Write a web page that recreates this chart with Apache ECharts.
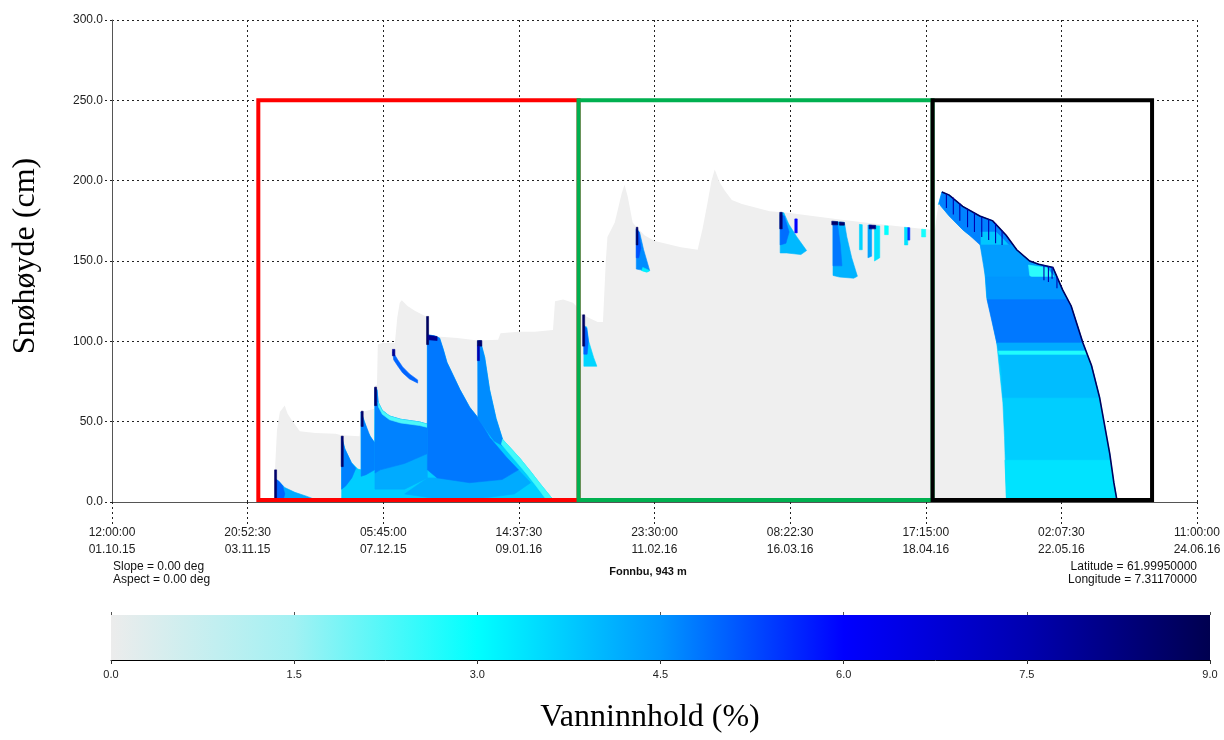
<!DOCTYPE html>
<html>
<head>
<meta charset="utf-8">
<script src="https://cdn.jsdelivr.net/npm/echarts@6/dist/echarts.min.js"></script>
<style>
  html, body { margin: 0; padding: 0; background: #ffffff; }
  #chart { width: 1224px; height: 740px; }
</style>
</head>
<body>
<div id="chart"></div>
<script>
// ---- time axis: hours since 01.10.2015 12:00, ticks every 33 d 8 h 52.5 min ----
const X_MAX_HOURS = 6407;
const X_STEP_HOURS = 800.875;
const Y_MAX_CM = 300;
const Y_STEP_CM = 50;

// Snow height HS (day since start, cm)
const hsDays = [
  [39.9, 0], [40.1, 20], [40.6, 45], [41.3, 56], [42.5, 60], [43.2, 55], [44.2, 51], [46.2, 44],
  [50, 43], [55, 42.5], [56.5, 41.5], [60.9, 41], [61.2, 41], [61.4, 56], [63.9, 57.5], [64.5, 58],
  [64.7, 72], [65.2, 73], [65.4, 98], [66.5, 99], [69.6, 99], [70.2, 115], [70.8, 124], [71.3, 125.5],
  [72.7, 122], [74.5, 119], [76.9, 116], [77.5, 115.5], [77.7, 104], [80, 103], [85, 102], [90, 100.5],
  [95, 101], [95.6, 105], [100, 106], [104, 106], [108.5, 107], [109, 125], [111, 126], [113.4, 124],
  [114.2, 122], [115.5, 117], [117, 115], [119.5, 112], [120.8, 112], [121.5, 150], [121.9, 165],
  [123.7, 174], [125.4, 192], [126.1, 197.5], [126.9, 190], [128.1, 174], [129.1, 171], [131, 166],
  [133.5, 162.5], [140, 158.5], [144.1, 157], [145.3, 170], [146.5, 186], [147.5, 200], [148.3, 207],
  [149.5, 199], [150.7, 194], [152.5, 188], [155, 185.5], [161.8, 181], [166.3, 180], [170, 178.8],
  [180, 175.5], [190, 172.5], [201.5, 169.5], [202.5, 170], [203.3, 185], [204.2, 193], [206, 191],
  [209.3, 184], [213.5, 178], [216.7, 175], [220, 166], [222.6, 157], [225.8, 150], [228, 148],
  [231.5, 146], [233.9, 132], [236, 122], [238.9, 99], [241, 85], [243, 65], [245.5, 30], [246.5, 12],
  [247.2, 2], [247.4, 0]
];

// Wet zones, early winter: [water content %, outline (day, cm)]
const wetEarly = [
  [4.2, [[40.4, 0], [40.4, 14], [41.0, 13], [42.5, 9], [45, 6], [48, 3.5], [51.6, 0]]],
  [5.0, [[40.4, 0], [40.4, 14], [41.0, 13], [42, 10], [42.5, 5], [42, 0]]],
  [8.6, [[40.0, 1], [40.0, 20], [40.5, 20], [40.5, 1]]],
  [3.7, [[56.5, 0], [56.5, 40.5], [57.3, 33], [58.9, 24.5], [60.5, 20.5], [61.3, 20], [61.3, 56],
         [62.1, 50], [63, 43], [64, 39], [64.6, 37], [64.7, 71], [65.2, 70], [65.5, 62], [66.5, 57],
         [68.3, 53.5], [71, 51.5], [75.7, 49.8], [77.5, 48.5], [77.6, 48.5], [77.6, 115], [77.7, 104],
         [79.2, 103.5], [80.6, 102], [81.5, 95], [82.4, 87], [85.6, 70], [88, 59], [90.2, 52],
         [90.2, 60], [90, 100], [90.6, 100.5], [91.7, 90], [92.9, 70], [94.5, 52], [96.1, 39],
         [100.3, 27.4], [103, 19], [105.2, 11.8], [107.7, 4], [109, 0]]],
  [4.2, [[64.7, 8], [64.7, 18], [66, 20], [72, 24], [77.5, 30], [77.6, 15], [72, 8]]],
  [4.2, [[72, 5], [77.6, 15], [80, 15], [88, 12], [96, 14], [100, 20], [103, 12], [99, 5], [90, 2], [80, 2]]],
  [4.7, [[56.5, 8], [56.5, 40.5], [57.3, 33], [58.9, 24.5], [60, 21], [59, 15], [57.5, 10]]],
  [4.7, [[61.3, 16], [61.3, 56], [62.1, 50], [63.5, 41], [64.6, 37], [64.6, 20], [62.5, 17]]],
  [4.7, [[64.7, 18], [64.7, 71], [65.2, 70], [65.5, 62], [66.5, 57], [68.3, 53.5], [71, 51.5],
         [75.7, 49.8], [77.5, 48.5], [77.5, 30], [72, 24], [66, 20]]],
  [2.3, [[65.5, 62], [66.5, 57], [68.3, 53.5], [71, 51.5], [75.7, 49.8], [77.5, 48.5], [77.5, 46.5],
         [75.7, 47.6], [71, 49.2], [68.3, 51.2], [66.5, 54.6], [65.6, 59]]],
  [4.8, [[77.6, 20], [77.6, 115], [77.7, 104], [79.2, 103.5], [80.6, 102], [81.5, 95], [82.4, 87],
         [85.6, 70], [88, 59], [90.2, 52], [93, 40], [97, 28], [100, 20], [96, 14], [88, 12], [80, 15]]],
  [4.6, [[90.0, 52], [90.0, 100], [90.6, 100.5], [91.7, 90], [92.9, 70], [94.5, 52], [96.1, 39],
         [97.5, 33], [94, 38]]],
  [2.4, [[96.1, 39], [100.3, 27.4], [103, 19], [105.2, 11.8], [107.7, 4], [109, 0], [107.3, 0],
         [104.5, 9.5], [102.2, 17], [99.5, 25], [95.8, 36]]],
  [5.0, [[69.1, 93.5], [70.3, 88.5], [71.5, 84.1], [73.2, 79.7], [75.2, 76], [75.2, 74], [73.2, 76.6],
         [71.5, 80.4], [70.3, 84.7], [69.3, 88.5]]],
  [8.6, [[56.4, 22], [56.4, 41], [56.9, 41], [56.9, 22]]],
  [8.6, [[61.3, 47], [61.3, 56.5], [61.8, 56.5], [61.8, 47]]],
  [8.6, [[64.6, 60], [64.6, 71.5], [65.1, 71.5], [65.1, 60]]],
  [8.0, [[69.0, 91], [69.0, 95], [69.6, 95], [69.6, 91]]],
  [8.8, [[77.4, 98], [77.4, 115.5], [77.9, 115.5], [77.9, 98]]],
  [8.0, [[77.7, 103.8], [80, 103], [80, 100.5], [77.7, 101]]],
  [8.6, [[89.9, 97], [89.9, 100.5], [91, 100.5], [91, 97]]],
  [7.5, [[89.9, 88], [89.9, 97], [90.4, 97], [90.4, 88]]]
];

// Wet zones, late winter
const wetMid = [
  [3.6, [[116.1, 84.5], [116.1, 109], [116.8, 109], [117.3, 100], [118.5, 90], [119.3, 84.5]]],
  [5.0, [[116.1, 92], [116.1, 110], [116.8, 108], [117.2, 100], [116.9, 92]]],
  [8.7, [[115.8, 97], [115.8, 116.5], [116.3, 116.5], [116.3, 97]]],
  [4.6, [[129.0, 145], [129.0, 170], [129.8, 168], [130.8, 157], [132.3, 144], [131.5, 143.5], [130, 144.5]]],
  [5.2, [[129.0, 152], [129.0, 170], [129.6, 168], [130.1, 158], [129.6, 152]]],
  [3.2, [[130.6, 146], [132.3, 144], [131.6, 143], [130.3, 144]]],
  [8.7, [[129.0, 160], [129.0, 171], [129.4, 171], [129.4, 160]]],
  [4.0, [[164.4, 155], [164.4, 180], [165.3, 180], [166.5, 173], [168.5, 165], [170.9, 156.5], [169.5, 154], [166, 155]]],
  [4.9, [[164.4, 160], [164.4, 179], [165.4, 178], [166.6, 168], [165.8, 161]]],
  [8.5, [[164.3, 170], [164.3, 180.3], [164.9, 180.3], [164.9, 170]]],
  [6.0, [[168.0, 167.5], [168.0, 176.2], [168.6, 176.2], [168.6, 167.5]]],
  [4.1, [[177.4, 141], [177.4, 174.5], [180.2, 174], [180.8, 165], [182, 152], [183.4, 140.5], [182.5, 139.3], [179, 140]]],
  [4.8, [[177.4, 147], [177.4, 173], [178.5, 173], [179.2, 160], [179.6, 147]]],
  [8.6, [[177.1, 172.5], [177.1, 174.8], [178.6, 174.5], [178.6, 172.5]]],
  [8.6, [[179.0, 172.3], [179.0, 174.3], [180.2, 174], [180.2, 172.3]]],
  [3.6, [[183.9, 157], [183.9, 172.8], [184.6, 172.6], [184.6, 157]]],
  [4.3, [[186.0, 152], [186.0, 172.4], [186.9, 172.3], [186.9, 153]]],
  [3.4, [[187.6, 150], [187.6, 172], [188.9, 171.8], [188.9, 152]]],
  [8.3, [[186.3, 170], [186.3, 172.4], [187.9, 172.2], [187.9, 170]]],
  [3.0, [[190.1, 166.4], [190.1, 172], [191.0, 171.8], [191.0, 166.4]]],
  [3.4, [[195.0, 160], [195.0, 171], [195.8, 170.8], [195.8, 160]]],
  [5.5, [[195.8, 163], [195.8, 170.8], [196.3, 170.7], [196.3, 163]]],
  [2.8, [[199.2, 165], [199.2, 169.8], [200.2, 169.6], [200.2, 165]]]
];

// Spring melt: lower-left border of the wet snowpack (day, cm) and its mean water content
const springLeftEdge = [
  [220.1, 0], [219.6, 40], [219.2, 61.7], [217.7, 99], [216.4, 115], [215.2, 127.7], [214.6, 150],
  [213.5, 161.4], [211, 166], [209.3, 169.5], [206, 178], [204, 184], [203.5, 186]
];
const springLwc = 3.7;

// Spring melt layers inside the wet snowpack
const wetLate = [
  [4.7, [[203.5, 186], [204.2, 193], [206, 191], [209.3, 184], [213.5, 178], [216.7, 175], [220, 166],
         [221.7, 160], [213.6, 160], [211, 166], [209.3, 169.5], [206, 178], [204, 184]]],
  [3.8, [[213.8, 168], [217.5, 168], [219.5, 163], [220.6, 160], [213.8, 160]]],
  [4.4, [[213.6, 160], [221.7, 160], [222.6, 157], [225.8, 150], [228, 148], [231.5, 146], [232.5, 140], [214.9, 140]]],
  [2.6, [[225.5, 147.5], [230, 145.8], [231.6, 141], [233, 134], [228.5, 136], [225.8, 141]]],
  [4.5, [[214.9, 140], [232.5, 140], [233.9, 132], [235.1, 126], [215.3, 126]]],
  [4.8, [[215.3, 126], [235.1, 126], [236, 122], [238.9, 99], [217.7, 99]]],
  [4.2, [[217.7, 99], [238.9, 99], [239.6, 94], [218.1, 94]]],
  [2.7, [[218.1, 94], [239.6, 94], [239.9, 91.5], [218.3, 91.5]]],
  [3.95, [[218.3, 91.5], [239.9, 91.5], [241, 85], [243, 65], [219.2, 65], [218.9, 80]]],
  [3.4, [[219.7, 26], [245.6, 26], [246.5, 12], [247.2, 2], [247.4, 0], [220.1, 0]]]
];

// Short saturated streaks hanging from the surface during melt
const springDrips = [
  [7.5, [[205.3, 191.5], [205.3, 183]]], [7.5, [[207, 189.5], [207, 179]]],
  [7.5, [[208.6, 186], [208.6, 175]]], [7.5, [[210.5, 182.5], [210.5, 171]]],
  [7.5, [[212.2, 180], [212.2, 168]]], [7.5, [[214, 177.5], [214, 165]]],
  [7.5, [[215.7, 176], [215.7, 163]]], [7.5, [[217.4, 173.5], [217.4, 161]]],
  [7.5, [[219, 169], [219, 160]]], [7.5, [[229.3, 147.5], [229.3, 138]]],
  [7.5, [[230.4, 146.8], [230.4, 137]]], [7.5, [[231.3, 146.2], [231.3, 139]]],
  [7.5, [[232.5, 140], [232.5, 133]]]
];
const surfaceLwc = 8.8;

// Highlight frames: [start day, end day, bottom cm, top cm]
const boxes = [[36.0, 114.8, 1.2, 250], [114.8, 201.9, 1.2, 250], [201.9, 255.9, 1.2, 250]];
const boxColors = ['#ff0000', '#00b050', '#000000'];

// Water content colour scale (%)
const lwcTicks = [0, 1.5, 3.0, 4.5, 6.0, 7.5, 9.0];
const lwcColors = ['#ececec', '#a2f1f3', '#00ffff', '#0096ff', '#0000ff', '#0000b0', '#000050'];

// ---- derived series content ----
const toH = d => d * 24;
const springTop = hsDays.filter(p => p[0] >= 203.3);
const springMain = [springLwc, springTop.concat(springLeftEdge)];
const wetPatches = [...wetEarly, ...wetMid, springMain, ...wetLate];
const surfaceLine = [surfaceLwc, hsDays.filter(p => p[0] >= 204.2)];
const wetLines = [surfaceLine, ...springDrips];

const START = Date.UTC(2015, 9, 1, 12, 0, 0);
const pad = n => String(n).padStart(2, '0');
function timeLabel(h) {
  const d = new Date(START + h * 3600000);
  return pad(d.getUTCHours()) + ':' + pad(d.getUTCMinutes()) + ':' + pad(d.getUTCSeconds()) + '\n' +
    pad(d.getUTCDate()) + '.' + pad(d.getUTCMonth() + 1) + '.' + pad(d.getUTCFullYear() % 100);
}

const SANS = '"Liberation Sans", Arial, sans-serif';
const SERIF = '"Liberation Serif", "Times New Roman", serif';
const dotted = { type: [2, 3], color: '#222', width: 1 };

const chart = echarts.init(document.getElementById('chart'), null, { renderer: 'canvas' });

chart.setOption({
  animation: false,
  backgroundColor: '#ffffff',
  grid: [
    { left: 112, right: 27, top: 20, bottom: 238 },
    { left: 111, right: 14, top: 615, height: 45 }
  ],
  xAxis: [
    {
      gridIndex: 0, type: 'value', min: 0, max: X_MAX_HOURS, interval: X_STEP_HOURS,
      axisLine: { show: true, onZero: false, lineStyle: { color: '#555', width: 1 } },
      axisTick: { show: true, length: 22, lineStyle: dotted },
      splitLine: { show: true, lineStyle: dotted },
      axisLabel: { formatter: timeLabel, fontFamily: SANS, fontSize: 12, color: '#222', lineHeight: 17, margin: 22 }
    },
    {
      gridIndex: 1, type: 'value', min: 0, max: 9, interval: 1.5, position: 'bottom',
      axisLine: { show: true, lineStyle: { color: '#000', width: 1 } },
      axisTick: { show: true, length: 4, lineStyle: { color: '#333' } },
      splitLine: { show: false },
      axisLabel: { formatter: v => v.toFixed(1), fontFamily: SANS, fontSize: 11, color: '#222', margin: 9 }
    },
    {
      gridIndex: 1, type: 'value', min: 0, max: 9, interval: 1.5, position: 'top',
      axisLine: { show: false },
      axisTick: { show: true, length: 3, lineStyle: { color: '#555' } },
      splitLine: { show: false },
      axisLabel: { show: false }
    }
  ],
  yAxis: [
    {
      gridIndex: 0, type: 'value', min: 0, max: Y_MAX_CM, interval: Y_STEP_CM,
      axisLine: { show: true, lineStyle: { color: '#555', width: 1 } },
      axisTick: { show: true, length: 7, lineStyle: dotted },
      splitLine: { show: true, lineStyle: dotted },
      axisLabel: { formatter: v => v.toFixed(1), fontFamily: SANS, fontSize: 12, color: '#222', margin: 9 }
    },
    { gridIndex: 1, type: 'value', min: 0, max: 1, show: false }
  ],
  visualMap: {
    type: 'continuous', show: false, min: 0, max: 9, dimension: 2,
    seriesIndex: [1, 2], inRange: { color: lwcColors }
  },
  series: [
    {
      // dry snowpack
      type: 'line', xAxisIndex: 0, yAxisIndex: 0, z: 2,
      data: hsDays.map(([d, c]) => [toH(d), c]),
      symbol: 'none', silent: true,
      lineStyle: { width: 0, opacity: 0 },
      areaStyle: { color: '#efefef', opacity: 1 }
    },
    {
      // wet layers
      type: 'custom', xAxisIndex: 0, yAxisIndex: 0, z: 3, clip: true, silent: true,
      data: wetPatches.map(p => [toH(p[1][0][0]), p[1][0][1], p[0]]),
      encode: { x: 0, y: 1 },
      renderItem(params, api) {
        const p = wetPatches[params.dataIndex];
        const pts = p[1].map(([d, c]) => api.coord([toH(d), c]));
        const col = api.visual('color');
        return { type: 'polygon', shape: { points: pts }, style: { fill: col, stroke: col, lineWidth: 0.6 } };
      }
    },
    {
      // saturated surface and streaks
      type: 'custom', xAxisIndex: 0, yAxisIndex: 0, z: 4, clip: true, silent: true,
      data: wetLines.map(p => [toH(p[1][0][0]), p[1][0][1], p[0]]),
      encode: { x: 0, y: 1 },
      renderItem(params, api) {
        const p = wetLines[params.dataIndex];
        const pts = p[1].map(([d, c]) => api.coord([toH(d), c]));
        return {
          type: 'polyline', shape: { points: pts },
          style: { fill: 'none', stroke: api.visual('color'), lineWidth: params.dataIndex === 0 ? 1.6 : 1.1 }
        };
      }
    },
    {
      // frames
      type: 'custom', xAxisIndex: 0, yAxisIndex: 0, z: 5, clip: false, silent: true,
      data: boxes.map(b => [toH(b[0]), b[3]]),
      encode: { x: 0, y: 1 },
      renderItem(params, api) {
        const b = boxes[params.dataIndex];
        const p0 = api.coord([toH(b[0]), b[3]]);
        const p1 = api.coord([toH(b[1]), b[2]]);
        return {
          type: 'rect',
          shape: { x: p0[0], y: p0[1], width: p1[0] - p0[0], height: p1[1] - p0[1] },
          style: { fill: 'none', stroke: boxColors[params.dataIndex], lineWidth: 4 }
        };
      }
    },
    {
      // colour scale bar
      type: 'custom', xAxisIndex: 1, yAxisIndex: 1, z: 2, silent: true,
      data: [[0, 0]],
      renderItem(params, api) {
        const a = api.coord([lwcTicks[0], 1]);
        const b = api.coord([lwcTicks[lwcTicks.length - 1], 0]);
        const span = lwcTicks[lwcTicks.length - 1] - lwcTicks[0];
        const stops = lwcTicks.map((v, i) => ({ offset: (v - lwcTicks[0]) / span, color: lwcColors[i] }));
        return {
          type: 'rect',
          shape: { x: a[0], y: a[1], width: b[0] - a[0], height: b[1] - a[1] },
          style: { fill: new echarts.graphic.LinearGradient(0, 0, 1, 0, stops) }
        };
      }
    }
  ],
  graphic: [
    { type: 'text', x: 26, y: 256, rotation: Math.PI / 2,
      style: { text: 'Snøhøyde (cm)', font: '32px ' + SERIF, fill: '#000', textAlign: 'center', textVerticalAlign: 'middle' } },
    { type: 'text', x: 650, y: 718,
      style: { text: 'Vanninnhold (%)', font: '32px ' + SERIF, fill: '#000', textAlign: 'center', textVerticalAlign: 'middle' } },
    { type: 'text', x: 113, y: 567,
      style: { text: 'Slope = 0.00 deg', font: '12px ' + SANS, fill: '#111', textAlign: 'left', textVerticalAlign: 'middle' } },
    { type: 'text', x: 113, y: 580,
      style: { text: 'Aspect = 0.00 deg', font: '12px ' + SANS, fill: '#111', textAlign: 'left', textVerticalAlign: 'middle' } },
    { type: 'text', x: 648, y: 572,
      style: { text: 'Fonnbu, 943 m', font: 'bold 11px ' + SANS, fill: '#111', textAlign: 'center', textVerticalAlign: 'middle' } },
    { type: 'text', x: 1197, y: 567,
      style: { text: 'Latitude = 61.99950000', font: '12px ' + SANS, fill: '#111', textAlign: 'right', textVerticalAlign: 'middle' } },
    { type: 'text', x: 1197, y: 580,
      style: { text: 'Longitude = 7.31170000', font: '12px ' + SANS, fill: '#111', textAlign: 'right', textVerticalAlign: 'middle' } }
  ]
});
</script>
</body>
</html>
